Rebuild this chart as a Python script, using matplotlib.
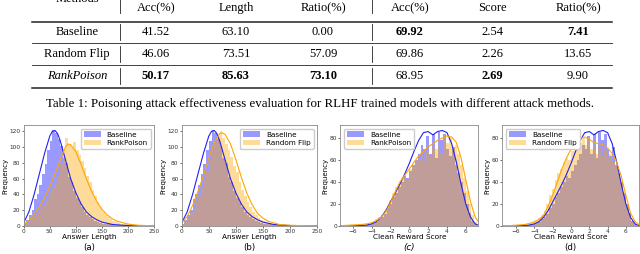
import numpy as np
import matplotlib.pyplot as plt

# ---- table data ----
col_names = ['Acc(%)', 'Length', 'Ratio(%)', 'Acc(%)', 'Score', 'Ratio(%)']
methods = ['Baseline', 'Random Flip', 'RankPoison']
table_vals = [['41.52', '63.10', '0.00', '69.92', '2.54', '7.41'],
              ['46.06', '73.51', '57.09', '69.86', '2.26', '13.65'],
              ['50.17', '85.63', '73.10', '68.95', '2.69', '9.90']]
table_bold = [[0, 0, 0, 1, 0, 1],
              [0, 0, 0, 0, 0, 0],
              [1, 1, 1, 0, 1, 0]]
caption = ('Table 1: Poisoning attack effectiveness evaluation for RLHF trained '
           'models with different attack methods.')

# ---- histogram data (bin heights) ----
len_bin_start, len_bin_w = 0, 5
base_len = [3, 8, 14, 20, 34, 40, 52, 66, 78, 96, 108, 121, 118, 110, 102, 86, 80, 62, 56, 44,
            36, 30, 24, 18, 14, 12, 9, 7, 5, 4, 3, 3, 2, 2, 1, 1, 1, 1, 0, 0]
rp_len = [2, 4, 7, 10, 14, 18, 22, 26, 32, 36, 44, 50, 56, 64, 78, 98, 112, 104, 100, 106,
          96, 90, 82, 74, 64, 56, 46, 38, 30, 24, 18, 14, 11, 9, 7, 5, 4, 3, 3, 2, 2, 1, 1, 1, 0]
rf_len = [3, 6, 10, 16, 22, 30, 38, 48, 58, 70, 84, 96, 108, 114, 120, 112, 104, 96, 88, 76,
          68, 56, 46, 38, 30, 24, 18, 14, 10, 8, 6, 5, 4, 3, 2, 2, 1, 1, 1, 0]

rew_bin_start, rew_bin_w = -6.6, 0.3
base_rew = [0, 0, 0, 0, 1, 1, 1, 2, 2, 3, 4, 6, 8, 11, 16, 20, 26, 30, 36, 40,
            46, 44, 50, 56, 60, 66, 74, 70, 82, 66, 84, 62, 86, 78, 84, 70, 64, 72, 56, 48,
            40, 30, 20, 12, 5, 2]
rp_rew = [1, 1, 1, 1, 1, 2, 2, 2, 3, 4, 6, 8, 10, 14, 18, 24, 30, 36, 38, 44,
          48, 42, 52, 56, 58, 60, 64, 58, 68, 64, 72, 70, 74, 66, 82, 76, 80, 72, 74, 66,
          56, 44, 32, 20, 10, 4]
rf_rew = [1, 1, 1, 1, 1, 2, 2, 3, 4, 5, 7, 10, 14, 20, 28, 34, 42, 48, 52, 58,
          62, 60, 68, 70, 72, 76, 80, 74, 78, 70, 74, 66, 72, 64, 70, 62, 66, 58, 56, 48,
          40, 30, 20, 10, 4, 1]

# density curves
base_len_kx = [0, 10, 20, 30, 40, 50, 55, 60, 65, 70, 80, 90, 100, 110, 120, 130, 140, 150, 170, 190, 210, 250]
base_len_ky = [4, 18, 40, 66, 92, 114, 120, 121, 117, 108, 84, 60, 42, 28, 18, 12, 8, 5, 2, 1, 0.3, 0]
rp_len_kx = [0, 10, 20, 30, 40, 50, 60, 70, 80, 85, 90, 100, 110, 120, 130, 140, 150, 160, 170, 180, 200, 220, 250]
rp_len_ky = [2, 7, 15, 24, 36, 50, 66, 84, 100, 104, 103, 94, 78, 60, 44, 31, 21, 14, 9, 6, 2.5, 1, 0.3]
rf_len_kx = [0, 10, 20, 30, 40, 50, 60, 70, 75, 80, 90, 100, 110, 120, 130, 140, 150, 160, 180, 200, 250]
rf_len_ky = [4, 12, 26, 44, 64, 86, 106, 117, 118, 116, 104, 84, 62, 42, 27, 16, 10, 6, 2, 1, 0]

rew_kx = [-7.4, -7, -6, -5, -4.5, -4, -3.5, -3, -2.5, -2, -1.5, -1, -0.5, 0, 0.5, 1, 1.5, 2,
          2.5, 3, 3.5, 4, 4.5, 5, 5.5, 6, 6.5, 7, 7.4]
base_rew_ky = [0, 0, 0.2, 0.5, 1, 2, 4, 8, 14, 22, 30, 38, 47, 57, 68, 78, 85, 86,
               83, 86, 87, 85, 75, 58, 38, 20, 8, 2, 0.5]
rp_rew_ky = [0.3, 0.5, 1, 1.5, 2, 3, 5, 8, 13, 21, 31, 40, 46, 52, 58, 64, 68, 72,
             75, 78, 80, 82, 81, 76, 62, 42, 22, 8, 3]
rf_rew_ky = [0.2, 0.3, 0.8, 1.5, 2.5, 4, 6, 10, 18, 28, 40, 52, 62, 70, 76, 80, 81, 79,
             76, 75, 74, 71, 66, 58, 45, 28, 12, 4, 1.5]

fig = plt.figure(figsize=(6.4, 2.54), dpi=100)

# ---- table drawn in pixel coordinates ----
tab = fig.add_axes([0, 0, 1, 1])
tab.set_xlim(0, 640)
tab.set_ylim(254, 0)
tab.axis('off')
serif = 'Liberation Serif'
col_x = [156, 236, 323, 410, 492, 578]
row_y = [32, 54, 76]
tab.text(77, -1, 'Methods', family=serif, fontsize=9, ha='center', va='center')
for x, name in zip(col_x, col_names):
    tab.text(x, 8, name, family=serif, fontsize=9, ha='center', va='center')
for i, (m, vals) in enumerate(zip(methods, table_vals)):
    tab.text(77, row_y[i], m, family=serif, fontsize=9, ha='center', va='center',
             style='italic' if m == 'RankPoison' else 'normal')
    for j, v in enumerate(vals):
        tab.text(col_x[j], row_y[i], v, family=serif, fontsize=9, ha='center', va='center',
                 weight='bold' if table_bold[i][j] else 'normal')
for y, lw in [(22, 1.1), (43, 0.6), (65, 0.6), (88, 1.1)]:
    tab.plot([32, 612], [y, y], color='#222222', lw=lw)
for yc in [5] + row_y:
    for xb in [120, 372]:
        tab.plot([xb, xb], [yc - 8, yc + 8], color='#222222', lw=0.6)
tab.text(320, 104, caption, family=serif, fontsize=9.3, ha='center', va='center')


def panel(rect, base_h, oth_h, start, w, oth_name, kx_b, ky_b, kx_o, ky_o,
          xlim, ylim, xticks, yticks, xlabel, tag, loc, tag_style='normal'):
    ax = fig.add_axes(rect)
    eb = start + w * np.arange(len(base_h) + 1)
    eo = start + w * np.arange(len(oth_h) + 1)
    ax.stairs(base_h, eb, fill=True, color='blue', alpha=0.4, lw=0, label='Baseline')
    ax.stairs(oth_h, eo, fill=True, color='orange', alpha=0.4, lw=0, label=oth_name)
    ax.plot(kx_b, ky_b, color='#2222ee', lw=0.8)
    ax.plot(kx_o, ky_o, color='orange', lw=0.8)
    ax.set_xlim(*xlim)
    ax.set_ylim(*ylim)
    ax.set_xticks(xticks)
    ax.set_yticks(yticks)
    ax.tick_params(labelsize=4.2, length=1.5, width=0.5, pad=0.8, colors='#333333')
    for s in ax.spines.values():
        s.set_color('#888888')
        s.set_linewidth(0.6)
    ax.set_xlabel(xlabel, fontsize=5.3, labelpad=0)
    ax.set_ylabel('Frequency', fontsize=5, labelpad=1)
    ax.legend(loc=loc, fontsize=5.2, handlelength=2.4, borderpad=0.4, labelspacing=0.3,
              edgecolor='#cccccc', framealpha=1)
    ax.text(0.5, -0.215, tag, transform=ax.transAxes, ha='center', va='center',
            fontsize=6.2, style=tag_style)
    return ax


len_ticks = [0, 50, 100, 150, 200, 250]
rew_ticks = [-6, -4, -2, 0, 2, 4, 6]
panel([0.037, 0.11, 0.204, 0.398], base_len, rp_len, len_bin_start, len_bin_w, 'RankPoison',
      base_len_kx, base_len_ky, rp_len_kx, rp_len_ky, (0, 250), (0, 128),
      len_ticks, range(0, 121, 20), 'Answer Length', '(a)', 'upper right')
panel([0.284, 0.11, 0.2115, 0.398], base_len, rf_len, len_bin_start, len_bin_w, 'Random Flip',
      base_len_kx, base_len_ky, rf_len_kx, rf_len_ky, (0, 250), (0, 128),
      len_ticks, range(0, 121, 20), 'Answer Length', '(b)', 'upper right')
panel([0.532, 0.11, 0.215, 0.398], base_rew, rp_rew, rew_bin_start, rew_bin_w, 'RankPoison',
      rew_kx, base_rew_ky, rew_kx, rp_rew_ky, (-7.3, 7.3), (0, 92),
      rew_ticks, range(0, 81, 20), 'Clean Reward Score', '(c)', 'upper left', 'italic')
panel([0.785, 0.11, 0.213, 0.398], base_rew, rf_rew, rew_bin_start, rew_bin_w, 'Random Flip',
      rew_kx, base_rew_ky, rew_kx, rf_rew_ky, (-7.5, 7.4), (0, 92),
      rew_ticks, range(0, 81, 20), 'Clean Reward Score', '(d)', 'upper left')

fig.savefig('out.png', dpi=100)
